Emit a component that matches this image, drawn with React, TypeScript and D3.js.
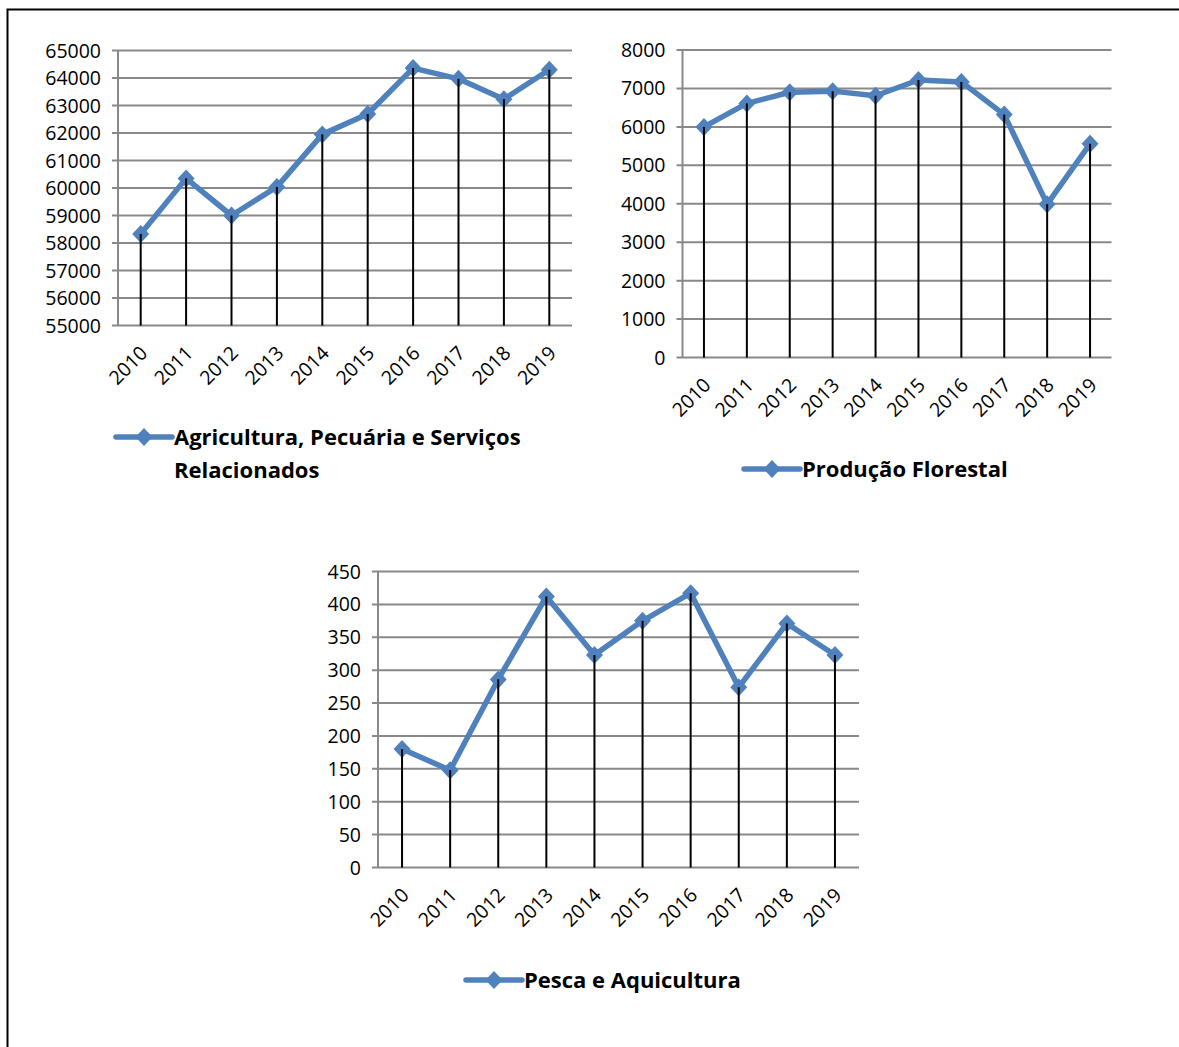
import React from "react";
import * as d3 from "d3";

const years = ["2010", "2011", "2012", "2013", "2014", "2015", "2016", "2017", "2018", "2019"];
const agriculturaValues = [58330, 60350, 59000, 60040, 61950, 62690, 64360, 63970, 63230, 64300];
const florestalValues = [6000, 6610, 6900, 6930, 6810, 7220, 7170, 6320, 3990, 5560];
const pescaValues = [180, 148, 286, 412, 323, 375, 417, 274, 371, 323];
const agriculturaTicks = [55000, 56000, 57000, 58000, 59000, 60000, 61000, 62000, 63000, 64000, 65000];
const florestalTicks = [0, 1000, 2000, 3000, 4000, 5000, 6000, 7000, 8000];
const pescaTicks = [0, 50, 100, 150, 200, 250, 300, 350, 400, 450];
const agriculturaLegend = ["Agricultura, Pecuária e Serviços", "Relacionados"];
const florestalLegend = ["Produção Florestal"];
const pescaLegend = ["Pesca e Aquicultura"];

const BLUE = "#4F81BD";
const GRID = "#898989";
const FONT = "'Open Sans', Lato, sans-serif";

type ChartProps = {
  values: number[];
  ticks: number[];
  left: number;
  right: number;
  top: number;
  bottom: number;
  legend: string[];
  legendX: number;
  legendY: number;
};

function diamond(cx: number, cy: number, hw: number, hh: number) {
  const p = d3.path();
  p.moveTo(cx, cy - hh);
  p.lineTo(cx + hw, cy);
  p.lineTo(cx, cy + hh);
  p.lineTo(cx - hw, cy);
  p.closePath();
  return p.toString();
}

function Chart({ values, ticks, left, right, top, bottom, legend, legendX, legendY }: ChartProps) {
  const x = d3.scaleBand<string>().domain(years).range([left, right]);
  const y = d3
    .scaleLinear()
    .domain([ticks[0], ticks[ticks.length - 1]])
    .range([bottom, top]);
  const cx = (yr: string) => (x(yr) as number) + x.bandwidth() / 2;
  const line = d3
    .line<number>()
    .x((_, i) => cx(years[i]))
    .y((v) => y(v));
  return (
    <g>
      {ticks.map((t) => (
        <g key={t}>
          <line x1={left - 6} x2={right} y1={y(t)} y2={y(t)} stroke={GRID} strokeWidth={2} />
          <text x={left - 17} y={y(t)} dy="0.36em" textAnchor="end" fontSize={19.5} fontFamily={FONT} fill="#000">
            {t}
          </text>
        </g>
      ))}
      <line x1={left} x2={left} y1={top} y2={bottom} stroke={GRID} strokeWidth={2} />
      <path d={line(values) || ""} fill="none" stroke={BLUE} strokeWidth={5.5} strokeLinejoin="round" />
      {values.map((v, i) => (
        <path key={"m" + i} d={diamond(cx(years[i]), y(v), 8.5, 9)} fill={BLUE} />
      ))}
      {values.map((v, i) => (
        <line key={"d" + i} x1={cx(years[i])} x2={cx(years[i])} y1={y(v)} y2={bottom} stroke="#000" strokeWidth={2} />
      ))}
      {years.map((yr) => (
        <text
          key={yr}
          transform={`translate(${cx(yr) + 3},${bottom + 24}) rotate(-45)`}
          textAnchor="end"
          dy="0.36em"
          fontSize={19.5}
          fontFamily={FONT}
          fill="#000"
        >
          {yr}
        </text>
      ))}
      <line x1={legendX} x2={legendX + 56} y1={legendY} y2={legendY} stroke={BLUE} strokeWidth={5.5} strokeLinecap="round" />
      <path d={diamond(legendX + 28, legendY, 8.5, 9)} fill={BLUE} />
      {legend.map((s, i) => (
        <text
          key={s}
          x={legendX + 58}
          y={legendY + i * 33}
          dy="0.36em"
          fontSize={22}
          fontWeight="bold"
          fontFamily={FONT}
          fill="#000"
        >
          {s}
        </text>
      ))}
    </g>
  );
}

export default function App() {
  return (
    <svg
      width={1179}
      height={1047}
      style={{ position: "absolute", left: 0, top: 0, background: "#fff" }}
    >
      <rect x={0} y={0} width={1179} height={1047} fill="#fff" />
      <rect x={7.5} y={9.5} width={1300} height={1200} fill="none" stroke="#000" strokeWidth={2} />
      <Chart
        values={agriculturaValues}
        ticks={agriculturaTicks}
        left={118}
        right={572}
        top={50.5}
        bottom={325.5}
        legend={agriculturaLegend}
        legendX={116}
        legendY={437}
      />
      <Chart
        values={florestalValues}
        ticks={florestalTicks}
        left={682.5}
        right={1111.5}
        top={50}
        bottom={357.5}
        legend={florestalLegend}
        legendX={744}
        legendY={469}
      />
      <Chart
        values={pescaValues}
        ticks={pescaTicks}
        left={378}
        right={859}
        top={571.5}
        bottom={867.5}
        legend={pescaLegend}
        legendX={466}
        legendY={980}
      />
    </svg>
  );
}
